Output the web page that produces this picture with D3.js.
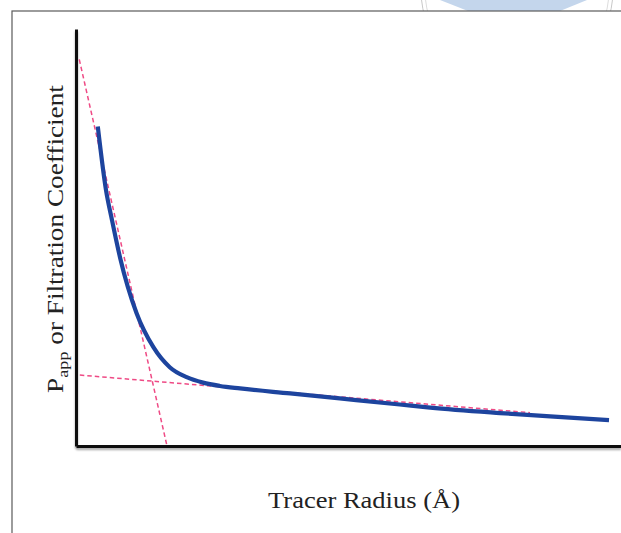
<!DOCTYPE html>
<html>
<head>
<meta charset="utf-8">
<script src="https://cdn.jsdelivr.net/npm/d3@7"></script>
<style>
  html, body { margin: 0; padding: 0; background: #fff; }
  svg { display: block; }
  .lbl { font-family: "Liberation Serif", "Times New Roman", Times, serif; fill: #222; }
</style>
</head>
<body>
<svg id="chart" width="621" height="533"></svg>
<script>
// ---- data (arbitrary units) ----
const radius = [4.0, 5.5, 6.6, 8.1, 11.1, 14.2, 17.2, 20.3, 23.3, 26.4, 30.1, 39.3, 48.4, 59.4, 65.0, 77.8, 87.0, 97.8];
const coefficient = [76.6, 61.4, 54.2, 45.1, 31.9, 23.7, 18.9, 16.5, 15.2, 14.4, 13.8, 12.6, 11.4, 9.95, 9.2, 7.9, 7.1, 6.2];
const steepFitX = [0.6, 16.7];
const steepFitY = [92.7, 0];
const shallowFitX = [0.7, 83.3];
const shallowFitY = [17.0, 8.0];
const xLabel = "Tracer Radius (Å)";
const yLabelMain = "P";
const yLabelSub = "app";
const yLabelRest = " or Filtration Coefficient";

const svg = d3.select("#chart");

// faint watermark behind the frame
const wm = svg.append("g");
wm.append("circle").attr("cx", 517).attr("cy", -10).attr("r", 96)
  .attr("fill", "none").attr("stroke", "#c8c8c8").attr("stroke-width", 1);
wm.append("circle").attr("cx", 517).attr("cy", -10).attr("r", 92)
  .attr("fill", "none").attr("stroke", "#dcdcdc").attr("stroke-width", 1);
wm.append("path").attr("d", "M440,0 L587,0 L560,11 L468,11 Z").attr("fill", "#c4d6ec");

// frame
svg.append("rect").attr("x", 12).attr("y", 11).attr("width", 700).attr("height", 600)
  .attr("fill", "#fff").attr("stroke", "#5a5a5a").attr("stroke-width", 1.2);

const x = d3.scaleLinear().domain([0, 100]).range([76, 621]);
const y = d3.scaleLinear().domain([0, 100]).range([446, 29]);

// shadow filter (user space so zero-height lines still render)
const defs = svg.append("defs");
const f = defs.append("filter").attr("id", "sh").attr("filterUnits", "userSpaceOnUse")
  .attr("x", -700).attr("y", -700).attr("width", 1500).attr("height", 1500);
f.append("feDropShadow").attr("dx", 0).attr("dy", 2).attr("stdDeviation", 1.2)
  .attr("flood-color", "#000").attr("flood-opacity", 0.35);

// axes (no ticks)
const xAxis = svg.append("g").attr("transform", `translate(0,${y(0)})`)
  .call(d3.axisBottom(x).tickValues([]).tickSizeOuter(0));
const yAxis = svg.append("g").attr("transform", `translate(${x(0)},0)`)
  .call(d3.axisLeft(y).tickValues([]).tickSizeOuter(0));
[xAxis, yAxis].forEach(a => a.select(".domain")
  .attr("stroke", "#111").attr("stroke-width", 3).attr("filter", "url(#sh)"));

// dashed fit lines
const lineGen = d3.line().x(d => x(d[0])).y(d => y(d[1]));
[[steepFitX, steepFitY], [shallowFitX, shallowFitY]].forEach(([xs, ys]) => {
  svg.append("path")
    .attr("d", lineGen(xs.map((v, i) => [v, ys[i]])))
    .attr("fill", "none").attr("stroke", "#ef4a85").attr("stroke-width", 1.5)
    .attr("stroke-dasharray", "4.5,3");
});

// curve
svg.append("path")
  .attr("d", d3.line().x(d => x(d[0])).y(d => y(d[1])).curve(d3.curveMonotoneX)(radius.map((v, i) => [v, coefficient[i]])))
  .attr("fill", "none").attr("stroke", "#1d449e").attr("stroke-width", 4.2)
  .attr("stroke-linecap", "butt");

// x label
const xl = svg.append("text").attr("class", "lbl")
  .attr("text-anchor", "middle")
  .attr("font-size", 23)
  .text(xLabel);
const xlLen = xl.node().getComputedTextLength();
xl.attr("transform", `translate(364,507.5) scale(${192 / xlLen},1)`);

// y label
const yl = svg.append("text").attr("class", "lbl")
  .attr("text-anchor", "middle")
  .attr("font-size", 22.5);
yl.append("tspan").text(yLabelMain);
yl.append("tspan").attr("font-size", 15).attr("dy", 5).text(yLabelSub);
yl.append("tspan").attr("dy", -5).text(yLabelRest);
const ylLen = yl.node().getComputedTextLength();
yl.attr("transform", `translate(62.7,239) rotate(-90) scale(${308 / ylLen},1)`);
</script>
</body>
</html>
